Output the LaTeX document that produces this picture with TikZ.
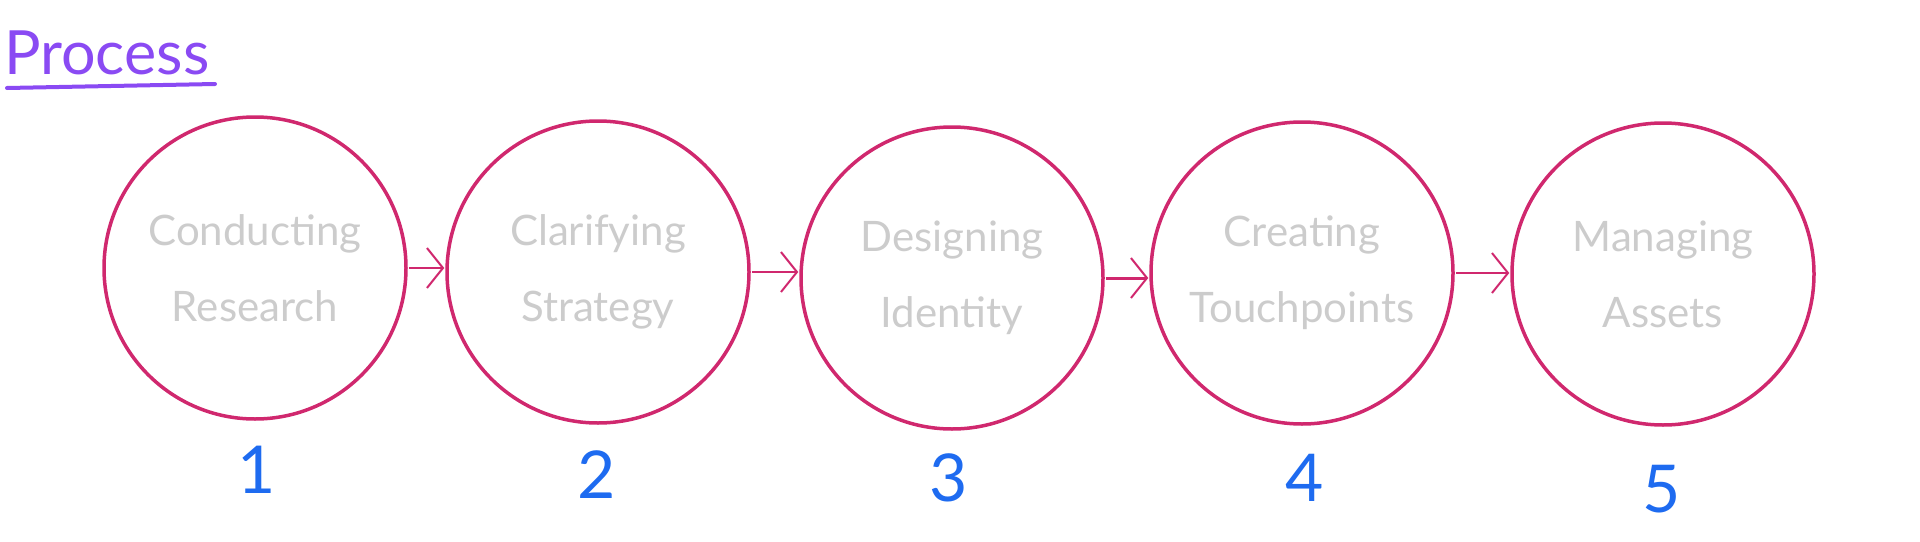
\documentclass[tikz,border=0pt]{standalone}
\usepackage{fontspec}
\setmainfont{Lato}
\usetikzlibrary{arrows.meta}
\definecolor{ring}{HTML}{D0286E}
\definecolor{numblue}{HTML}{1E6BF0}
\definecolor{titlepurple}{HTML}{8A4AF3}
\definecolor{labelgray}{HTML}{CCCCCC}
\begin{document}
\begin{tikzpicture}[x=1pt,y=-1pt,
  stage/.style={circle, draw=ring, line width=3.5pt, minimum size=302pt, inner sep=0pt,
    text=labelgray, font=\fontsize{42}{76}\selectfont, align=center},
  num/.style={text=numblue, font=\fontsize{66}{66}\selectfont, inner sep=0pt},
  flow/.style={draw=ring, line width=2pt, -{Straight Barb[length=16pt,width=40pt,line width=2pt]}, shorten <=1pt, shorten >=1pt},
  titlestyle/.style={text=titlepurple, font=\fontsize{61}{61}\selectfont, inner sep=0pt, anchor=base west}]
\useasboundingbox (0,0) rectangle (1920,541);

\node[titlestyle] (title) at (4,74) {Process};
\draw[titlepurple, line width=4pt, line cap=round] (7,88) -- (215,84);

\node[stage] (c1) at (255,268) {Conducting\\Research};
\node[stage] (c2) at (598,272) {Clarifying\\Strategy};
\node[stage] (c3) at (952,278) {Designing\\Identity};
\node[stage] (c4) at (1302,273) {Creating\\Touchpoints};
\node[stage] (c5) at (1663,274) {Managing\\Assets};

\draw[flow] (c1.east) -- (c1.east -| c2.west);
\draw[flow] (c2.east) -- (c2.east -| c3.west);
\draw[flow, line width=3pt] (c3.east) -- (c3.east -| c4.west);
\draw[flow] (c4.east) -- (c4.east -| c5.west);

\node[num] (n1) at (257,470) {1};
\node[num] (n2) at (597,475) {2};
\node[num] (n3) at (949,478) {3};
\node[num] (n4) at (1305,478) {4};
\node[num] (n5) at (1662,489) {5};
\end{tikzpicture}
\end{document}
